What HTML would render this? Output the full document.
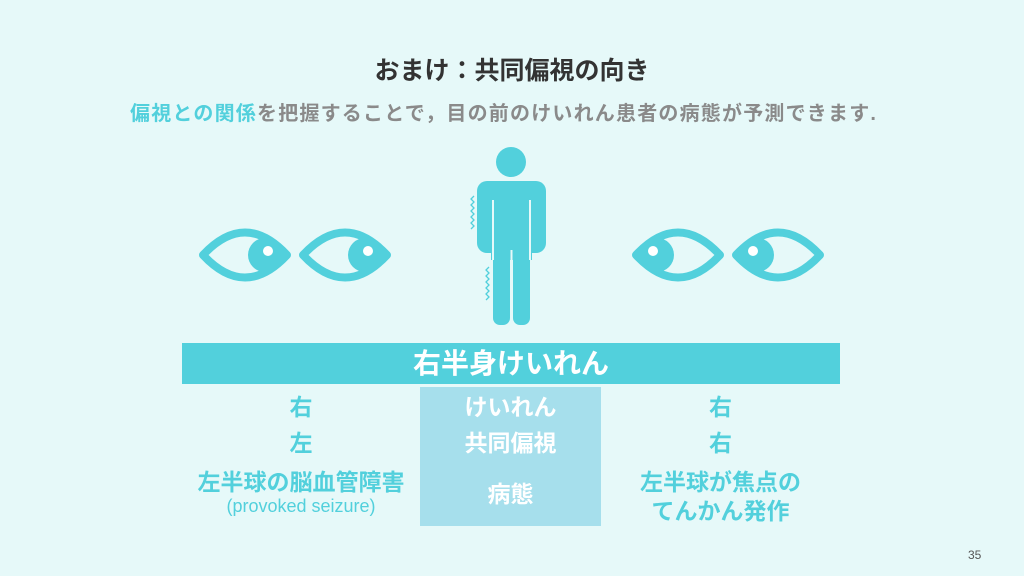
<!DOCTYPE html><html><head><meta charset="utf-8"><style>
body{margin:0;width:1024px;height:576px;background:#e6f9f9;position:relative;overflow:hidden;font-family:"Liberation Sans","Noto Sans CJK JP",sans-serif}
.t{position:absolute;white-space:nowrap;font-weight:bold}
.c{text-align:center}
</style></head><body>
<div class="t c" style="left:0;width:1024px;top:51px;font-size:25px;color:#333">おまけ：共同偏視の向き</div>
<div class="t" style="left:130px;top:97px;font-size:20px;letter-spacing:1.2px;color:#8a8a8a"><span style="color:#52d0dc">偏視との関係</span>を把握することで，目の前のけいれん患者の病態が予測できます.</div>
<svg width="1024" height="576" style="position:absolute;left:0;top:0">
<defs>
<clipPath id="a"><path d="M203 255 Q245 210 287 255 Q245 300 203 255Z"/></clipPath>
<clipPath id="b"><path d="M303 255 Q345 210 387 255 Q345 300 303 255Z"/></clipPath>
<clipPath id="c"><path d="M636 255 Q678 210 720 255 Q678 300 636 255Z"/></clipPath>
<clipPath id="d"><path d="M736 255 Q778 210 820 255 Q778 300 736 255Z"/></clipPath>
</defs>
<g fill="#52d0dc">
<circle cx="265" cy="255" r="17" clip-path="url(#a)"/><circle cx="365" cy="255" r="17" clip-path="url(#b)"/>
<circle cx="657" cy="255" r="17" clip-path="url(#c)"/><circle cx="757" cy="255" r="17" clip-path="url(#d)"/>
</g>
<g fill="none" stroke="#52d0dc" stroke-width="8" stroke-linejoin="round">
<path d="M203 255 Q245 210 287 255 Q245 300 203 255Z"/>
<path d="M303 255 Q345 210 387 255 Q345 300 303 255Z"/>
<path d="M636 255 Q678 210 720 255 Q678 300 636 255Z"/>
<path d="M736 255 Q778 210 820 255 Q778 300 736 255Z"/>
</g>
<g fill="#fff"><circle cx="268" cy="251" r="5"/><circle cx="368" cy="251" r="5"/><circle cx="653" cy="251" r="5"/><circle cx="753" cy="251" r="5"/></g>
<g fill="#52d0dc">
<circle cx="511" cy="162" r="15"/>
<rect x="477" y="181" width="69" height="72" rx="10"/>
<rect x="491" y="240" width="41" height="20"/>
<rect x="493" y="245" width="17" height="80" rx="7"/>
<rect x="513" y="245" width="17" height="80" rx="7"/>
</g>
<g stroke="#e6f9f9" stroke-width="2"><line x1="493" y1="200" x2="493" y2="260"/><line x1="530" y1="200" x2="530" y2="260"/><line x1="511.5" y1="250" x2="511.5" y2="325"/></g>
<g fill="none" stroke="#52d0dc" stroke-width="1.3">
<path d="M474 196 l-3 3 3 3 -3 3 3 3 -3 3 3 3 -3 3 3 3 -3 3 3 3 -3 3"/>
<path d="M489 267 l-3 3 3 3 -3 3 3 3 -3 3 3 3 -3 3 3 3 -3 3 3 3 -3 3"/>
</g>
<rect x="182" y="343" width="658" height="41" fill="#52d0dc"/>
<rect x="420" y="387" width="181" height="139" fill="#a6dfec"/>
</svg>
<div class="t c" style="left:182px;width:658px;top:342px;font-size:28px;color:#fff">右半身けいれん</div>
<div class="t c" style="left:420px;width:181px;top:388px;font-size:23px;color:#fff">けいれん</div>
<div class="t c" style="left:420px;width:181px;top:424px;font-size:23px;color:#fff">共同偏視</div>
<div class="t c" style="left:420px;width:181px;top:475px;font-size:23px;color:#fff">病態</div>
<div class="t c" style="left:182px;width:238px;top:388px;font-size:23px;color:#52d0dc">右</div>
<div class="t c" style="left:182px;width:238px;top:424px;font-size:23px;color:#52d0dc">左</div>
<div class="t c" style="left:182px;width:238px;top:463px;font-size:23px;color:#52d0dc">左半球の脳血管障害</div>
<div class="t c" style="left:182px;width:238px;top:496px;font-size:18px;font-weight:normal;color:#52d0dc">(provoked seizure)</div>
<div class="t c" style="left:601px;width:239px;top:388px;font-size:23px;color:#52d0dc">右</div>
<div class="t c" style="left:601px;width:239px;top:424px;font-size:23px;color:#52d0dc">右</div>
<div class="t c" style="left:601px;width:239px;top:463px;font-size:23px;color:#52d0dc">左半球が焦点の</div>
<div class="t c" style="left:601px;width:239px;top:492px;font-size:23px;color:#52d0dc">てんかん発作</div>
<div style="position:absolute;left:968px;top:548px;font-size:12px;color:#555">35</div>
</body></html>
